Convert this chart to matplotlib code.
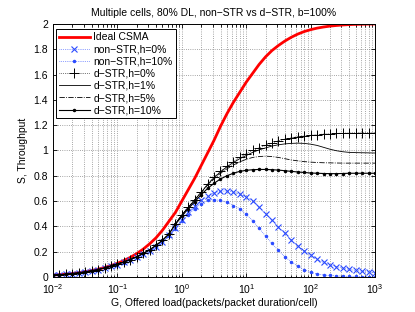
import numpy as np
import matplotlib
matplotlib.use('Agg')
import matplotlib.pyplot as plt
from matplotlib.ticker import LogLocator, NullFormatter, FixedLocator

plt.rcParams['font.family'] = ['Liberation Sans', 'DejaVu Sans']
plt.rcParams['mathtext.fontset'] = 'custom'
plt.rcParams['mathtext.rm'] = 'Liberation Sans'

# offered load, log10(G) from -2 to 3 in steps of 0.1
G = 10 ** np.linspace(-2, 3, 51)

ideal_csma = [0.015, 0.019, 0.023, 0.028, 0.034, 0.042, 0.051, 0.062, 0.075, 0.090,
              0.108, 0.130, 0.155, 0.185, 0.220, 0.262, 0.31, 0.37, 0.44, 0.51,
              0.60, 0.69, 0.78, 0.88, 0.98, 1.08, 1.19, 1.29, 1.38, 1.46,
              1.54, 1.61, 1.68, 1.74, 1.79, 1.83, 1.865, 1.895, 1.92, 1.94,
              1.955, 1.967, 1.976, 1.983, 1.988, 1.992, 1.995, 1.997, 1.998, 1.999, 2.0]

nonstr_h0 = [0.014, 0.018, 0.022, 0.027, 0.033, 0.040, 0.049, 0.059, 0.070, 0.084,
             0.098, 0.115, 0.134, 0.155, 0.180, 0.208, 0.24, 0.28, 0.33, 0.39,
             0.45, 0.51, 0.56, 0.605, 0.64, 0.665, 0.678, 0.68, 0.672, 0.655,
             0.633, 0.60, 0.55, 0.50, 0.448, 0.395, 0.345, 0.29, 0.245, 0.205,
             0.17, 0.14, 0.115, 0.097, 0.082, 0.07, 0.06, 0.052, 0.045, 0.039, 0.034]

nonstr_h10 = [0.014, 0.018, 0.022, 0.027, 0.033, 0.040, 0.049, 0.059, 0.070, 0.083,
              0.097, 0.114, 0.133, 0.154, 0.178, 0.205, 0.237, 0.275, 0.325, 0.38,
              0.44, 0.49, 0.54, 0.58, 0.605, 0.612, 0.605, 0.59, 0.565, 0.54,
              0.495, 0.445, 0.385, 0.325, 0.265, 0.21, 0.16, 0.12, 0.085, 0.058,
              0.038, 0.024, 0.016, 0.012, 0.009, 0.007, 0.005, 0.004, 0.003, 0.002, 0.001]

dstr_h0 = [0.014, 0.018, 0.022, 0.027, 0.033, 0.040, 0.049, 0.059, 0.071, 0.085,
           0.10, 0.118, 0.138, 0.16, 0.186, 0.215, 0.25, 0.29, 0.34, 0.42,
           0.49, 0.55, 0.61, 0.67, 0.735, 0.79, 0.835, 0.875, 0.91, 0.945,
           0.975, 1.0, 1.02, 1.04, 1.06, 1.075, 1.09, 1.10, 1.11, 1.115,
           1.12, 1.125, 1.13, 1.132, 1.135, 1.137, 1.138, 1.14, 1.14, 1.141, 1.142]

dstr_h1 = [0.014, 0.018, 0.022, 0.027, 0.033, 0.040, 0.049, 0.059, 0.071, 0.085,
           0.10, 0.118, 0.138, 0.16, 0.186, 0.215, 0.25, 0.29, 0.34, 0.42,
           0.49, 0.55, 0.61, 0.67, 0.73, 0.785, 0.83, 0.87, 0.905, 0.935,
           0.96, 0.985, 1.005, 1.02, 1.035, 1.045, 1.052, 1.056, 1.058, 1.056,
           1.05, 1.04, 1.025, 1.01, 0.998, 0.99, 0.985, 0.983, 0.982, 0.981, 0.98]

dstr_h5 = [0.014, 0.018, 0.022, 0.027, 0.033, 0.040, 0.049, 0.059, 0.071, 0.085,
           0.10, 0.118, 0.138, 0.16, 0.186, 0.215, 0.25, 0.29, 0.34, 0.42,
           0.49, 0.55, 0.61, 0.665, 0.725, 0.775, 0.82, 0.855, 0.885, 0.91,
           0.93, 0.945, 0.952, 0.955, 0.952, 0.945, 0.935, 0.925, 0.918, 0.912,
           0.908, 0.905, 0.903, 0.902, 0.901, 0.90, 0.90, 0.90, 0.90, 0.90, 0.90]

dstr_h10 = [0.014, 0.018, 0.022, 0.027, 0.033, 0.040, 0.049, 0.059, 0.071, 0.085,
            0.10, 0.118, 0.138, 0.16, 0.186, 0.215, 0.25, 0.29, 0.34, 0.415,
            0.48, 0.54, 0.595, 0.65, 0.70, 0.74, 0.775, 0.80, 0.82, 0.835,
            0.843, 0.848, 0.85, 0.85, 0.848, 0.845, 0.84, 0.835, 0.83, 0.826,
            0.822, 0.82, 0.818, 0.817, 0.817, 0.818, 0.82, 0.82, 0.82, 0.82, 0.82]

blue = '#2b4bff'

fig = plt.figure(figsize=(4.15, 3.12), dpi=100)
ax = fig.add_axes([0.1277, 0.1122, 0.776, 0.811])

ax.semilogx(G, ideal_csma, '-', color='red', lw=2, label='Ideal CSMA')
ax.semilogx(G, nonstr_h0, ':', color=blue, lw=0.5, marker='x', ms=4, mew=0.8,
            label='non\u2212STR,h=0%')
ax.semilogx(G, nonstr_h10, ':', color=blue, lw=0.5, marker='.', ms=3,
            label='non\u2212STR,h=10%')
ax.semilogx(G, dstr_h0, ':', color='black', lw=0.5, marker='+', ms=6.5, mew=0.7,
            label='d\u2212STR,h=0%')
ax.semilogx(G, dstr_h1, '-', color='black', lw=0.6, label='d\u2212STR,h=1%')
ax.semilogx(G, dstr_h5, '-.', color='black', lw=0.6, label='d\u2212STR,h=5%')
ax.semilogx(G, dstr_h10, '-', color='black', lw=0.8, marker='.', ms=3,
            label='d\u2212STR,h=10%')

ax.set_xlim(1e-2, 1e3)
ax.set_ylim(0, 2)
ax.set_yticks(np.arange(0, 2.01, 0.2))
ax.set_yticklabels(['0', '0.2', '0.4', '0.6', '0.8', '1', '1.2', '1.4', '1.6', '1.8', '2'])
ax.xaxis.set_major_locator(FixedLocator([1e-2, 1e-1, 1e0, 1e1, 1e2, 1e3]))
ax.xaxis.set_minor_locator(LogLocator(base=10, subs=np.arange(2, 10), numticks=20))
ax.xaxis.set_minor_formatter(NullFormatter())

ax.grid(True, which='major', axis='both', linestyle=':', color='#888888', lw=0.6)
ax.grid(True, which='minor', axis='x', linestyle=':', color='#888888', lw=0.6)
ax.tick_params(which='both', direction='in', top=True, right=True, labelsize=7.5,
               length=3, width=0.6)
ax.tick_params(which='minor', length=1.8)
for s in ax.spines.values():
    s.set_linewidth(0.7)

ax.set_title('Multiple cells, 80% DL, non\u2212STR vs d\u2212STR, b=100%', fontsize=7.5, pad=6)
ax.set_xlabel('G, Offered load(packets/packet duration/cell)', fontsize=7.5, labelpad=2)
ax.set_ylabel('S, Throughput', fontsize=7.5, labelpad=4)

leg = ax.legend(loc='upper left', bbox_to_anchor=(0.01, 0.98), fontsize=7.5,
                handlelength=2.9, handletextpad=0.35, borderpad=0.3,
                labelspacing=0.21, fancybox=False, framealpha=1,
                edgecolor='black', borderaxespad=0)
leg.get_frame().set_linewidth(0.7)

fig.savefig('out.png', dpi=100)
